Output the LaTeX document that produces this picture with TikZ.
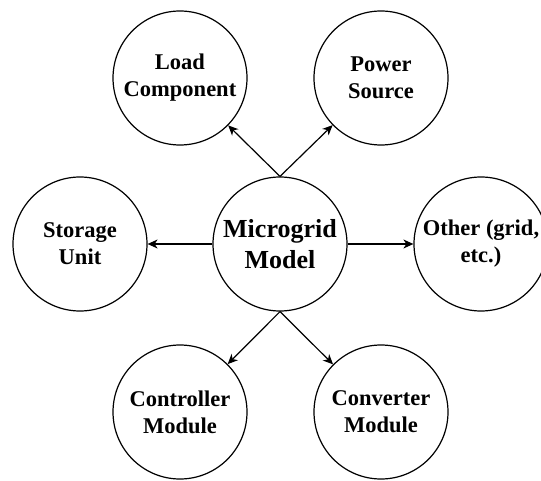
\documentclass[tikz,border=0pt]{standalone}
\usepackage{fontspec}
\setmainfont{Liberation Serif}
\usetikzlibrary{arrows.meta}
\begin{document}
\begin{tikzpicture}[x=1pt,y=1pt,
  bubble/.style={circle, draw=black, line width=1.2pt, minimum size=134pt, inner sep=0pt,
    align=center, font=\bfseries\fontsize{22.5}{27}\selectfont},
  hub/.style={bubble, font=\bfseries\fontsize{26}{31}\selectfont},
  link/.style={draw=black, line width=1.2pt, -{Stealth[length=10pt,width=9pt,inset=3pt]}}]
  \clip (0,0) rectangle (541,480);
  \useasboundingbox (0,0) rectangle (541,480);
  \fill[white] (0,0) rectangle (541,480);

  \node[hub]    (mg)   at (280,236) {Microgrid\\Model};
  \node[bubble] (load) at (180,402) {Load\\Component};
  \node[bubble] (pwr)  at (381,402) {Power\\Source};
  \node[bubble] (stor) at (80,236)  {Storage\\Unit};
  \node[bubble] (oth)  at (481,236) {Other (grid,\\etc.)};
  \node[bubble] (ctrl) at (180,68)  {Controller\\Module};
  \node[bubble] (conv) at (381,68)  {Converter\\Module};

  \draw[link] (mg.north) -- (load);
  \draw[link] (mg.north) -- (pwr);
  \draw[link] (mg.west)  -- (stor);
  \draw[link] (mg.east)  -- (oth);
  \draw[link] (mg.south) -- (ctrl);
  \draw[link] (mg.south) -- (conv);
\end{tikzpicture}
\end{document}
